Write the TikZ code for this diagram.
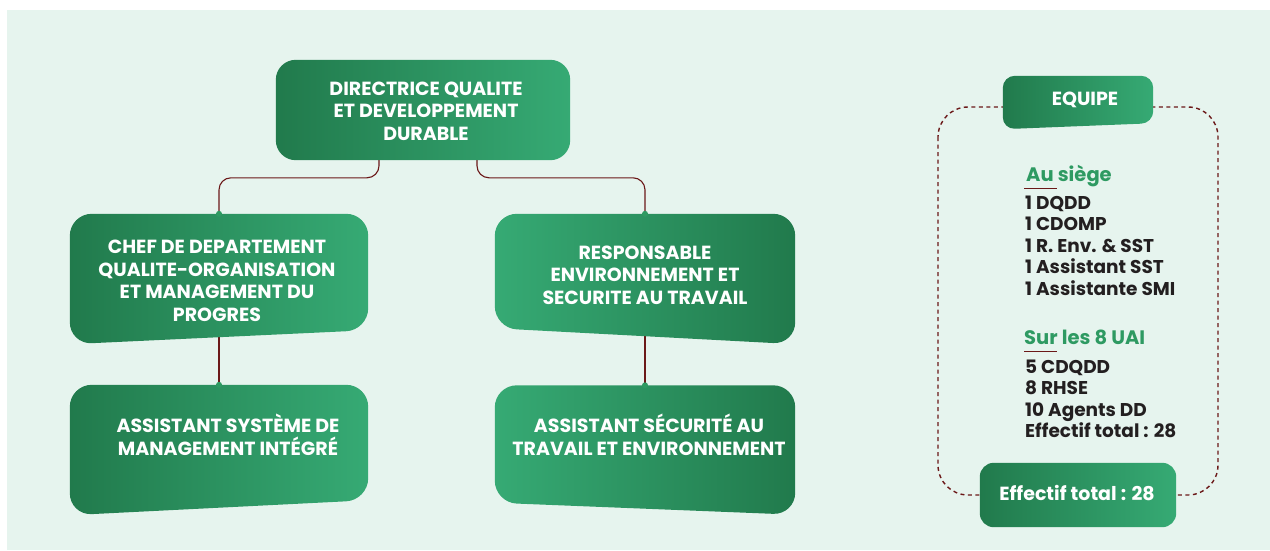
\documentclass[tikz,border=0pt]{standalone}
\usepackage{fontspec}
\setmainfont{Poppins}
\usetikzlibrary{calc,backgrounds}

\definecolor{dkgreen}{HTML}{217A4C}
\definecolor{ltgreen}{HTML}{36AA74}
\definecolor{mint}{HTML}{E6F4EE}
\definecolor{linkred}{HTML}{6B1818}
\definecolor{headgreen}{HTML}{2E9A62}
\definecolor{txtblack}{HTML}{231F20}

\tikzset{
  frame/.style={inner sep=0pt, minimum width=#1},
  frame/.default=300pt,
  boxtext/.style={text=white, font=\bfseries\fontsize{19}{22.5}\selectfont, align=center, inner sep=0pt},
  darkleft/.style={left color=dkgreen, right color=ltgreen},
  darkright/.style={left color=ltgreen, right color=dkgreen},
  link/.style={draw=linkred, line width=1.1pt},
  dot/.style={circle, fill=headgreen, inner sep=0pt, minimum size=6pt},
  listtext/.style={text=txtblack, font=\bfseries\fontsize{18.5}{20}\selectfont, inner sep=0pt, anchor=base west},
  headtext/.style={text=headgreen, font=\bfseries\fontsize{19.5}{20}\selectfont, inner sep=0pt, anchor=base west},
}

\begin{document}
\begin{tikzpicture}[x=1pt,y=-1pt]

  %\draw [help lines] (0,0) grid (1270,550);
  \useasboundingbox (0,0) rectangle (1270,550);

  % frames of the boxes
  \path (423,110) node (dqdd) [frame=294pt, minimum height=100pt] {}
        (219,279) node (chef) [frame=298pt, minimum height=130pt] {}
        (219,450) node (asmi) [frame=298pt, minimum height=130pt] {}
        (645,279) node (rest) [frame=300pt, minimum height=130pt] {}
        (645,450) node (aste) [frame=300pt, minimum height=129pt] {}
        (1078,102.5) node (equipe) [frame=150pt, minimum height=53pt] {}
        (1078,495) node (total) [frame=196pt, minimum height=64pt] {};

  % texts
  \node (dqdd-t) [boxtext] at (426,111) {DIRECTRICE QUALITE\\ET DEVELOPPEMENT\\DURABLE};
  \node (chef-t) [boxtext] at (217,281) {CHEF DE DEPARTEMENT\\QUALITE-ORGANISATION\\ET MANAGEMENT DU\\PROGRES};
  \node (asmi-t) [boxtext] at (228,435) {ASSISTANT SYSTÈME DE\\MANAGEMENT INTÉGRÉ};
  \node (rest-t) [boxtext] at (645,275) {RESPONSABLE\\ENVIRONNEMENT ET\\SECURITE AU TRAVAIL};
  \node (aste-t) [boxtext] at (649,435) {ASSISTANT SÉCURITÉ AU\\TRAVAIL ET ENVIRONNEMENT};
  \node (equipe-t) [boxtext] at (1085,100) {EQUIPE};
  \node (total-t) [boxtext] at (1077,493) {Effectif total : 28};

  % team list
  \node (siege) [headtext] at (1026,181) {Au siège};
  \foreach \t [count=\i] in {1 DQDD, 1 CDOMP, 1 R. Env. \& SST, 1 Assistant SST, 1 Assistante SMI}
    \node (s\i) [listtext] at (1025,187.5+21.5*\i) {\t};
  \node (uai) [headtext] at (1024,344) {Sur les 8 UAI};
  \foreach \t [count=\i] in {5 CDQDD, 8 RHSE, 10 Agents DD, Effectif total : 28}
    \node (u\i) [listtext] at (1025,351.5+21.5*\i) {\t};
  \draw [linkred, line width=0.8pt] ($(siege.base west)+(-2,7)$) -- ++(33,0);
  \draw [linkred, line width=0.8pt] ($(uai.base west)+(0,7)$) -- ++(33,0);

  \begin{scope}[on background layer]
    \fill [mint] (7,10) rectangle (1270,550);

    % connectors
    \draw [link, rounded corners=12pt] ($(dqdd.south)+(-44,0)$) |- ($(chef.north)+(0,-36)$) -- (chef.north);
    \draw [link, rounded corners=12pt] ($(dqdd.south)+(54,0)$) |- ($(rest.north)+(0,-36)$) -- (rest.north);
    \draw [link] (chef.center) -- (asmi.north);
    \draw [link] (rest.center) -- (aste.north);
    \draw [link, dash pattern=on 4pt off 3.5pt, line width=1.4pt, rounded corners=30pt]
      (938,107) rectangle (1218,495);

    % boxes
    \shade [darkleft, rounded corners=20pt] (dqdd.north west) -- (dqdd.north east)
      -- (dqdd.south east) -- (dqdd.south west) -- cycle;
    \shade [darkleft, rounded corners=22pt] (chef.north west) -- (chef.north east)
      -- ($(chef.south east)+(0,-14)$) -- (chef.south west) -- cycle;
    \shade [darkleft, rounded corners=22pt] (asmi.north west) -- (asmi.north east)
      -- ($(asmi.south east)+(0,-15)$) -- (asmi.south west) -- cycle;
    \shade [darkright, rounded corners=22pt] (rest.north west) -- (rest.north east)
      -- (rest.south east) -- ($(rest.south west)+(0,-16)$) -- cycle;
    \shade [darkright, rounded corners=22pt] (aste.north west) -- (aste.north east)
      -- (aste.south east) -- ($(aste.south west)+(0,-12)$) -- cycle;
    \shade [darkleft, rounded corners=12pt] (equipe.north west) -- (equipe.north east)
      -- ($(equipe.south east)+(0,-6)$) -- (equipe.south west) -- cycle;
    \shade [darkleft, rounded corners=14pt] (total.north west) -- (total.north east)
      -- (total.south east) -- (total.south west) -- cycle;
  \end{scope}

  % joints
  \node (j1) [dot] at (chef.north) {};
  \node (j2) [dot] at (rest.north) {};
  \node (j3) [dot] at (asmi.north) {};
  \node (j4) [dot] at (aste.north) {};

\end{tikzpicture}
\end{document}
